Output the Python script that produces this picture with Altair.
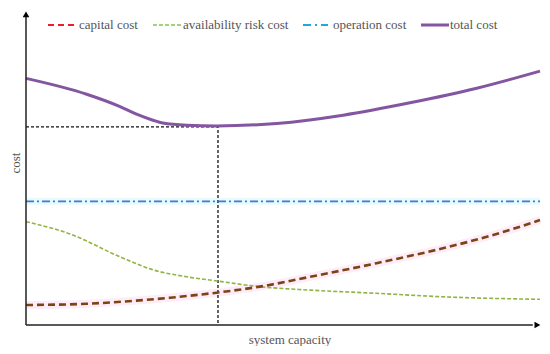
import altair as alt
import pandas as pd

# capacity (0-100) / cost (0-100)
total_x = [0, 11.8, 18.3, 21.5, 24.7, 26.6, 31.3, 37.1, 48.8, 61.7, 74.7, 87.7, 100]
total_y = [77.8, 72.8, 68.9, 66.5, 64.6, 63.7, 63.0, 62.8, 63.6, 66.2, 70.1, 74.7, 80.1]

avail_x = [0, 8.6, 18.3, 24.7, 31.3, 37.1, 45.5, 55.3, 68.2, 81.1, 100]
avail_y = [32.6, 28.7, 21.5, 17.4, 15.2, 13.9, 12.1, 11.0, 10.0, 8.9, 8.1]

capital_x = [0, 11.8, 21.5, 28.0, 37.1, 45.5, 55.3, 68.2, 81.1, 90.9, 100]
capital_y = [6.3, 6.7, 7.7, 8.6, 10.2, 12.1, 15.2, 19.5, 24.2, 28.4, 33.1]

operation_x = [0, 100]
operation_y = [39.0, 39.0]

opt_capacity = 37.35
opt_cost = 62.5

legend_labels = ["capital cost", "availability risk cost", "operation cost", "total cost"]

W, H = 534, 338
xs = alt.Scale(domain=[0, 100], range=[18, 532])
ys = alt.Scale(domain=[0, 100], range=[317, 0])


def df(xv, yv):
    return pd.DataFrame({"capacity": xv, "cost": yv})


def enc(ch):
    return ch.encode(
        x=alt.X("capacity:Q", scale=xs, axis=None),
        y=alt.Y("cost:Q", scale=ys, axis=None),
    )


layers = []

# glows
layers.append(enc(alt.Chart(df(capital_x, capital_y)).mark_line(
    color="#feecf8", strokeWidth=8, interpolate="monotone")))
layers.append(enc(alt.Chart(df(operation_x, operation_y)).mark_line(
    color="#e6fbfd", strokeWidth=7)))

# guide dashed black lines
guide = pd.DataFrame({"capacity": [0, opt_capacity, opt_capacity],
                      "cost": [opt_cost, opt_cost, 0]})
layers.append(enc(alt.Chart(guide).mark_line(
    color="#111111", strokeWidth=1.3, strokeDash=[3, 2])))

# series
layers.append(enc(alt.Chart(df(operation_x, operation_y)).mark_line(
    color="#4a72e0", strokeWidth=1.6, strokeDash=[8, 3, 2, 3])))
layers.append(enc(alt.Chart(df(avail_x, avail_y)).mark_line(
    color="#92b442", strokeWidth=1.6, strokeDash=[4, 2], interpolate="monotone")))
layers.append(enc(alt.Chart(df(capital_x, capital_y)).mark_line(
    color="#7a4414", strokeWidth=2.6, strokeDash=[7, 4], interpolate="monotone")))
layers.append(enc(alt.Chart(df(total_x, total_y)).mark_line(
    color="#8456a2", strokeWidth=3, interpolate="monotone")))

# axes with arrows
axes = pd.DataFrame({"capacity": [0, 0], "cost": [0, 0],
                     "capacity2": [0, 98.6], "cost2": [97.5, 0]})
layers.append(alt.Chart(axes).mark_rule(color="#222222", strokeWidth=1.5).encode(
    x=alt.X("capacity:Q", scale=xs, axis=None),
    y=alt.Y("cost:Q", scale=ys, axis=None),
    x2="capacity2:Q", y2="cost2:Q"))
arrows = pd.DataFrame({"capacity": [0, 99.5], "cost": [98.0, 0],
                       "shape": ["triangle-up", "triangle-right"]})
layers.append(alt.Chart(arrows).mark_point(filled=True, color="#000000", size=45, opacity=1).encode(
    x=alt.X("capacity:Q", scale=xs, axis=None),
    y=alt.Y("cost:Q", scale=ys, axis=None),
    shape=alt.Shape("shape:N", scale=None, legend=None)))

# axis titles
font = "Liberation Serif, Times New Roman, serif"
layers.append(alt.Chart(pd.DataFrame({"t": ["system capacity"]})).mark_text(
    font=font, fontSize=13, color="#555555", baseline="alphabetic", align="center").encode(
    text="t:N", x=alt.value(282), y=alt.value(336)))
layers.append(alt.Chart(pd.DataFrame({"t": ["cost"]})).mark_text(
    font=font, fontSize=13, color="#555555", baseline="alphabetic", align="center", angle=270).encode(
    text="t:N", x=alt.value(12), y=alt.value(155)))

# legend
leg_colors = ["#ee1c2e", "#86c34a", "#1ea8dc", "#8456a2"]
leg_dash = [[6, 4], [4, 2], [8, 4, 2, 4], [1, 0]]
leg_width = [2, 1.6, 2, 3]
leg_x1 = [40, 145, 295, 413]
leg_x2 = [70, 174, 320, 441]
leg_tx = [71, 175, 325, 442]
for i, lab in enumerate(legend_labels):
    layers.append(alt.Chart(pd.DataFrame({"t": [lab]})).mark_rule(
        color=leg_colors[i], strokeWidth=leg_width[i], strokeDash=leg_dash[i]).encode(
        x=alt.value(leg_x1[i]), x2=alt.value(leg_x2[i]), y=alt.value(17)))
    layers.append(alt.Chart(pd.DataFrame({"t": [lab]})).mark_text(
        font=font, fontSize=13, color="#555555", align="left", baseline="middle").encode(
        text="t:N", x=alt.value(leg_tx[i]), y=alt.value(17)))

chart = alt.layer(*layers).properties(
    width=W, height=H, padding=0, autosize=alt.AutoSizeParams(type="none"),
    background="white"
).configure_view(stroke=None)

chart.save("out.html", embed_options={"renderer": "svg", "actions": False})
